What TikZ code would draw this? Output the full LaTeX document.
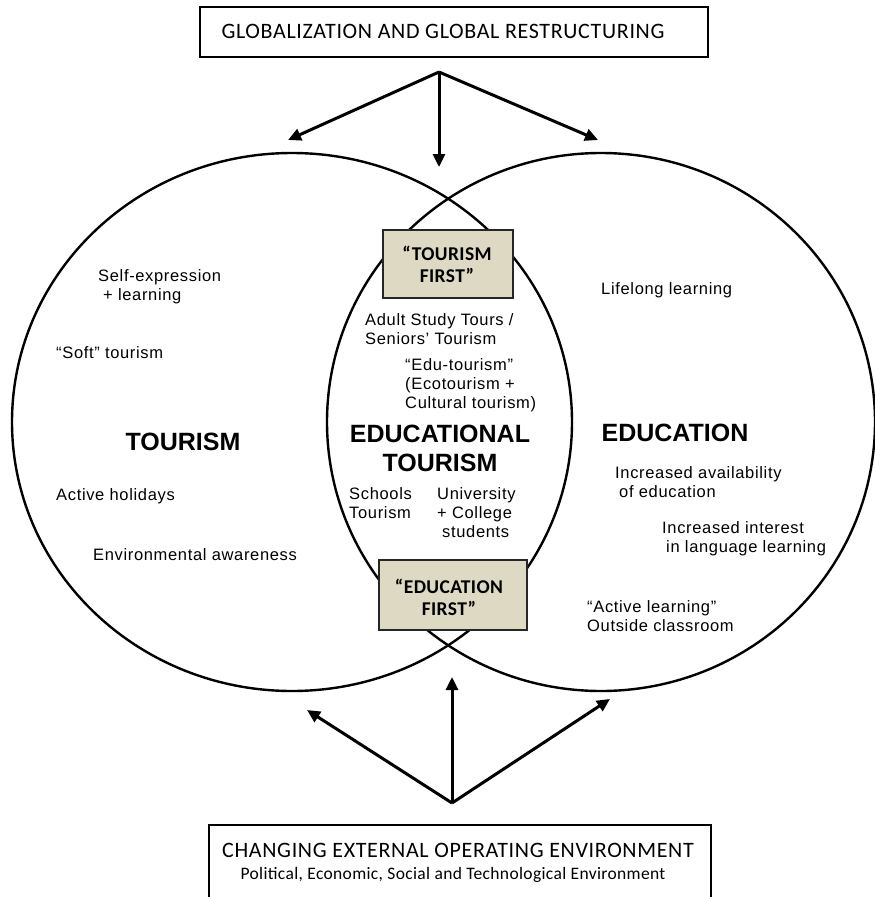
\documentclass[tikz,border=0pt]{standalone}
\usepackage{fontspec}
\setmainfont{Liberation Sans}
\newfontfamily\calfont{Carlito}
\usetikzlibrary{arrows.meta,shapes.geometric}
\definecolor{tanfill}{HTML}{DDD9C3}
\begin{document}
\begin{tikzpicture}[x=1pt,y=-1pt,
  txt/.style={inner sep=0pt, anchor=west, align=left,
    font=\fontsize{16.5}{19}\selectfont\addfontfeature{LetterSpace=4}},
  big/.style={inner sep=0pt, align=center, font=\fontsize{25}{29}\selectfont\bfseries},
  caltxt/.style={inner sep=0pt, font=\calfont\fontsize{22}{26}\selectfont\addfontfeature{LetterSpace=3}},
  calsmall/.style={inner sep=0pt, font=\calfont\fontsize{17.5}{20}\selectfont\addfontfeature{LetterSpace=2}},
  framebox/.style={draw, line width=2.2pt, inner sep=0pt},
  tanbox/.style={draw=black!85, fill=tanfill, line width=1.5pt, inner sep=0pt},
  firsttxt/.style={inner sep=0pt, align=center, font=\calfont\bfseries\fontsize{19.5}{22}\selectfont\addfontfeature{LetterSpace=2}},
  oval/.style={draw, ellipse, line width=2.4pt, inner sep=0pt},
  arr/.style={line width=3pt, -{Triangle[length=13pt,width=12pt]}}
]
\useasboundingbox (0,0) rectangle (875,897);

% circles
\node[oval, minimum width=560pt, minimum height=538pt] (tour) at (292,422) {};
\node[oval, minimum width=548pt, minimum height=538pt] (edu) at (601,422) {};

% top box
\node[framebox, minimum width=508pt, minimum height=50pt] (glob) at (454,32) {};
\node[caltxt] (globt) at (443,31) {GLOBALIZATION AND GLOBAL RESTRUCTURING};

% bottom box
\node[framebox, anchor=north west, minimum width=502pt, minimum height=90pt] (env) at (208,824) {};
\node[caltxt] (envt) at (458,850) {CHANGING EXTERNAL OPERATING ENVIRONMENT};
\node[calsmall] (envs) at (453,875) {Political, Economic, Social and Technological Environment};

% arrows top
\coordinate (gsrc) at (439,72);
\coordinate (gl) at (288,140);
\coordinate (gm) at (439,167);
\coordinate (gr) at (598,140);
\draw[arr] (gsrc) -- (gl);
\draw[arr] (gsrc) -- (gm);
\draw[arr] (gsrc) -- (gr);

% arrows bottom
\coordinate (esrc) at (452,803);
\coordinate (el) at (307,710);
\coordinate (em) at (452,677);
\coordinate (er) at (610,699);
\draw[arr] (esrc) -- (el);
\draw[arr] (esrc) -- (em);
\draw[arr] (esrc) -- (er);

% tan boxes
\node[tanbox, minimum width=130pt, minimum height=68pt] (tfirst) at (448,264) {};
\node[firsttxt] (tfirstt) at (447,264) {“TOURISM\\FIRST”};
\node[tanbox, minimum width=148pt, minimum height=70pt] (efirst) at (453,595) {};
\node[firsttxt] (efirstt) at (449,597) {“EDUCATION\\FIRST”};

% big labels
\node[big] (tourl) at (183,442) {TOURISM};
\node[big] (edul) at (675,433) {EDUCATION};
\node[big] (edtl) at (440,448) {EDUCATIONAL\\TOURISM};

% left texts
\node[txt] (selfexp) at (98,287) {Self-expression\\\hspace*{5pt}+ learning};
\node[txt] (soft) at (56,353) {“Soft” tourism};
\node[txt] (active) at (56,496) {Active holidays};
\node[txt] (envaw) at (93,555) {Environmental awareness};

% right texts
\node[txt] (lifelong) at (601,290) {Lifelong learning};
\node[txt] (avail) at (615,482) {Increased availability\\\hspace*{4pt}of education};
\node[txt] (lang) at (662,539) {Increased interest\\\hspace*{4pt}in language learning};
\node[txt] (activel) at (587,616) {“Active learning”\\Outside classroom};

% centre texts
\node[txt] (adult) at (365,329) {Adult Study Tours /\\Seniors’ Tourism};
\node[txt] (edutour) at (405,385) {“Edu-tourism”\\(Ecotourism +\\Cultural tourism)};
\node[txt] (schools) at (349,503) {Schools\\Tourism};
\node[txt] (univ) at (437,513) {University\\+ College\\\hspace*{5pt}students};
\end{tikzpicture}
\end{document}
